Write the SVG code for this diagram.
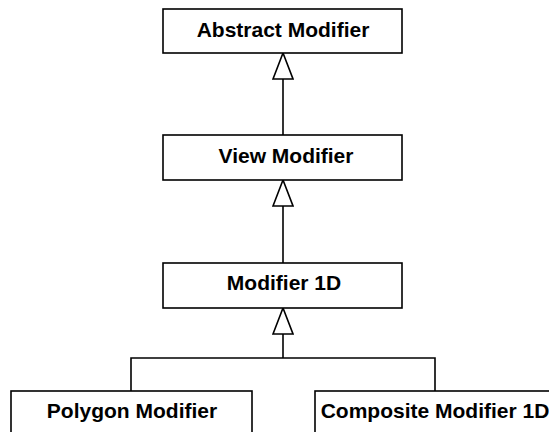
<svg xmlns="http://www.w3.org/2000/svg" width="549" height="432" viewBox="0 0 549 432">
  <style>
    .box { fill: #ffffff; stroke: #000000; stroke-width: 1.6; }
    .lbl { font-family: "Liberation Sans", Arial, sans-serif; font-weight: bold; font-size: 21px; fill: #000000; text-anchor: middle; }
    .edge { fill: none; stroke: #000000; stroke-width: 1.6; }
  </style>
  <defs>
    <marker id="gen" viewBox="-1 -1 28 22" refX="26" refY="10" markerWidth="28" markerHeight="22" orient="auto" markerUnits="userSpaceOnUse">
      <path d="M0,0 L26,10 L0,20 Z" fill="#ffffff" stroke="#000000" stroke-width="1.6"/>
    </marker>
  </defs>
  <rect width="549" height="432" fill="#ffffff"/>
  <g id="connectors">
    <path class="edge" d="M283,135 V53" marker-end="url(#gen)"/>
    <path class="edge" d="M283,263 V180" marker-end="url(#gen)"/>
    <path class="edge" d="M283,358 V308" marker-end="url(#gen)"/>
    <path class="edge" d="M131,391 V358 H435 V391"/>
  </g>
  <g id="abstract-modifier">
    <rect class="box" x="163" y="9" width="239" height="44"/>
    <text class="lbl" x="283" y="37">Abstract Modifier</text>
  </g>
  <g id="view-modifier">
    <rect class="box" x="163" y="135" width="239" height="45"/>
    <text class="lbl" x="286" y="163">View Modifier</text>
  </g>
  <g id="modifier-1d">
    <rect class="box" x="163" y="263" width="239" height="45"/>
    <text class="lbl" x="284" y="290">Modifier 1D</text>
  </g>
  <g id="polygon-modifier">
    <rect class="box" x="11" y="391" width="241" height="50"/>
    <text class="lbl" x="132" y="418">Polygon Modifier</text>
  </g>
  <g id="composite-modifier-1d">
    <rect class="box" x="315" y="391" width="241" height="50"/>
    <text class="lbl" x="435" y="418">Composite Modifier 1D</text>
  </g>
</svg>
